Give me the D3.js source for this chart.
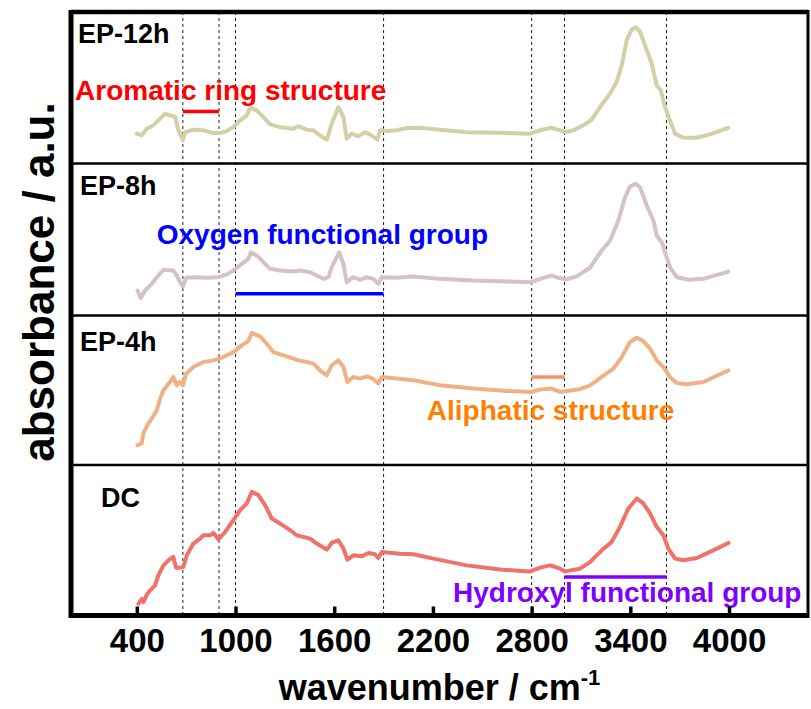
<!DOCTYPE html>
<html>
<head>
<meta charset="utf-8">
<script src="https://cdn.jsdelivr.net/npm/d3@7"></script>
<style>
body { margin: 0; background: #fff; }
text { font-family: "Liberation Sans", Arial, sans-serif; font-weight: bold; }
</style>
</head>
<body>
<svg id="chart"></svg>
<script>
var width = 811;
var height = 709;

// spectra: [wavenumber, absorbance (a.u., per panel)]
var ep12h = [[400,19.7],[430,18.5],[461,23.0],[501,25.2],[542,29.6],[572,32.9],[602,31.8],[633,30.7],[653,21.9],[680,15.2],
  [694,20.7],[744,22.3],[805,21.9],[866,20.1],[906,20.1],[947,21.4],[987,24.0],[1028,28.5],[1069,31.8],[1089,36.9],
  [1129,35.1],[1169,30.7],[1210,25.8],[1271,24.0],[1352,23.0],[1382,24.5],[1433,22.3],[1473,21.9],[1514,18.5],[1555,15.7],
  [1585,26.3],[1625,37.3],[1656,30.7],[1676,16.4],[1707,19.7],[1747,17.9],[1788,20.7],[1828,18.5],[1862,15.7],[1879,21.9],
  [1919,21.4],[1980,21.9],[2041,23.4],[2122,23.6],[2243,22.3],[2406,20.7],[2608,20.3],[2790,19.7],[2851,21.9],[2922,23.6],
  [2973,21.9],[3003,20.7],[3054,21.9],[3114,25.2],[3165,28.9],[3216,37.3],[3277,46.2],[3317,53.8],[3348,64.9],[3378,81.5],
  [3409,88.5],[3433,89.9],[3459,87.0],[3500,74.8],[3530,66.0],[3560,51.7],[3585,48.3],[3611,37.3],[3641,28.5],[3672,19.7],
  [3722,17.0],[3804,17.0],[3884,19.2],[3996,23.6]];

var ep8h = [[404,16.4],[424,11.6],[450,16.4],[491,20.9],[531,26.3],[562,30.1],[622,29.6],[643,26.3],[663,21.9],[680,19.1],
  [700,24.8],[744,25.2],[825,24.8],[896,25.2],[947,27.0],[987,29.6],[1038,34.0],[1078,37.3],[1093,41.6],[1129,39.5],
  [1169,35.1],[1210,30.7],[1271,29.6],[1352,28.9],[1392,29.6],[1453,28.5],[1494,26.3],[1534,24.1],[1564,25.2],[1585,31.8],
  [1631,41.6],[1656,34.0],[1676,21.9],[1716,25.2],[1757,23.5],[1798,25.2],[1838,24.1],[1868,20.9],[1889,25.2],[1980,24.8],
  [2081,25.7],[2243,24.1],[2446,23.0],[2649,22.4],[2801,21.9],[2851,24.1],[2922,26.3],[2962,24.8],[3009,23.7],[3074,25.7],
  [3155,31.4],[3226,42.8],[3277,49.3],[3327,62.5],[3368,77.8],[3398,84.9],[3433,86.6],[3459,84.4],[3500,72.4],[3540,62.5],
  [3560,52.6],[3591,48.2],[3617,39.5],[3641,31.8],[3682,25.2],[3753,23.5],[3844,24.1],[3996,28.9]];

var ep4h = [[404,13.3],[430,14.5],[440,21.1],[464,26.7],[501,32.7],[521,36.7],[542,44.5],[562,50.0],[602,55.5],[622,58.9],
  [643,53.3],[659,55.5],[680,53.3],[700,61.1],[744,65.5],[805,68.9],[866,70.0],[926,72.2],[987,75.5],[1038,80.0],
  [1078,82.9],[1099,88.2],[1149,86.0],[1190,81.1],[1230,75.5],[1291,73.3],[1352,71.1],[1382,70.0],[1433,68.9],[1473,67.8],
  [1514,63.3],[1555,60.0],[1585,66.7],[1625,70.0],[1656,65.5],[1680,55.5],[1716,58.9],[1757,57.8],[1798,59.3],[1834,57.8],
  [1868,54.5],[1889,58.9],[1980,57.8],[2081,56.7],[2243,53.3],[2446,51.1],[2649,49.5],[2801,48.9],[2851,50.5],[2922,51.1],
  [2973,48.9],[3003,49.3],[3094,50.7],[3155,53.3],[3226,58.9],[3297,64.5],[3348,72.2],[3398,82.2],[3439,85.1],[3479,82.9],
  [3520,77.8],[3560,70.0],[3601,65.5],[3641,58.9],[3682,54.9],[3743,54.0],[3844,55.5],[3996,63.3]];

var dc = [[410,7.8],[430,11.1],[440,8.9],[464,14.5],[491,17.8],[511,20.0],[531,26.7],[562,33.3],[592,36.7],[622,38.9],
  [639,31.8],[663,31.8],[683,32.2],[704,40.0],[744,47.8],[785,51.1],[805,53.3],[845,53.3],[866,54.9],[896,50.5],
  [937,55.5],[987,63.3],[1028,70.0],[1069,74.5],[1099,82.2],[1139,80.0],[1180,73.3],[1220,64.5],[1271,61.1],[1332,56.7],
  [1372,53.3],[1453,51.1],[1494,47.8],[1555,43.8],[1585,48.2],[1625,50.0],[1656,44.5],[1680,37.1],[1716,40.0],[1767,39.3],
  [1808,41.5],[1848,40.7],[1868,38.2],[1889,42.2],[2000,41.1],[2081,40.7],[2203,37.8],[2406,33.3],[2608,30.5],[2790,29.3],
  [2851,31.8],[2912,33.3],[2973,31.1],[3003,29.3],[3094,31.1],[3155,35.5],[3226,43.3],[3287,48.9],[3337,58.9],[3388,71.1],
  [3439,77.8],[3479,74.5],[3520,67.8],[3560,58.9],[3601,53.3],[3631,44.5],[3672,37.8],[3722,36.7],[3804,38.2],[3904,43.3],
  [3996,48.2]];

var seriesNames = ["EP-12h", "EP-8h", "EP-4h", "DC"];
var seriesData = [ep12h, ep8h, ep4h, dc];
var seriesColors = ["#d3cfa6", "#d3c3c3", "#f0b284", "#f07268"];

var xTicks = [400, 1000, 1600, 2200, 2800, 3400, 4000];
var dashWavenumbers = [680, 900, 1000, 1900, 2800, 3000, 3620];

// annotation ranges: panel index, from, to, level
var bandNames = ["Aromatic ring structure", "Oxygen functional group", "Aliphatic structure", "Hydroxyl functional group"];
var bandPanel = [0, 1, 2, 3];
var bandRange = [[680, 900], [1000, 1900], [2800, 3000], [3000, 3620]];
var bandLevel = [34.4, 14.3, 58.9, 25.5];
var bandLabelAt = [[25, 41.7], [521, 47.2], [2163, 30], [2322, 8.9]];
var bandBarColors = ["#ff0000", "#0000ff", "#ff8c69", "#8000ff"];
var bandTextColors = ["#ff0000", "#0000ff", "#ff8000", "#8000ff"];

var panelEdges = [12, 163.5, 315.5, 465, 615.5];
var left = 71, right = 808;

var svg = d3.select("#chart").attr("width", width).attr("height", height);

var x = d3.scaleLinear().domain([0, 4480]).range([left, right]);

var yScales = seriesNames.map(function(d, i) {
    return d3.scaleLinear().domain([0, 100]).range([panelEdges[i + 1], panelEdges[i]]);
});

// dashed guide lines through all panels
svg.append("g").selectAll("line").data(dashWavenumbers).enter().append("line")
    .attr("x1", function(d) { return x(d); })
    .attr("x2", function(d) { return x(d); })
    .attr("y1", panelEdges[0])
    .attr("y2", panelEdges[4])
    .attr("stroke", "#222")
    .attr("stroke-width", 1)
    .attr("stroke-dasharray", "3,3");

// spectra
seriesData.forEach(function(data, i) {
    var line = d3.line()
        .x(function(d) { return x(d[0]); })
        .y(function(d) { return yScales[i](d[1]); });
    svg.append("path").datum(data)
        .attr("d", line)
        .attr("fill", "none")
        .attr("stroke", seriesColors[i])
        .attr("stroke-width", 4)
        .attr("stroke-linejoin", "round")
        .attr("stroke-linecap", "round");
});

// annotation bars and labels
bandNames.forEach(function(name, i) {
    var ys = yScales[bandPanel[i]];
    svg.append("line")
        .attr("x1", x(bandRange[i][0]))
        .attr("x2", x(bandRange[i][1]))
        .attr("y1", ys(bandLevel[i]))
        .attr("y2", ys(bandLevel[i]))
        .attr("stroke", bandBarColors[i])
        .attr("stroke-width", 3.5);
    svg.append("text")
        .attr("x", x(bandLabelAt[i][0]))
        .attr("y", ys(bandLabelAt[i][1]))
        .attr("fill", bandTextColors[i])
        .style("font-size", "28px")
        .text(name);
});

// panel names
var nameOffset = [[78, 31], [80, 31], [80, 35], [101, 42]];
seriesNames.forEach(function(name, i) {
    svg.append("text")
        .attr("x", nameOffset[i][0])
        .attr("y", panelEdges[i] + nameOffset[i][1])
        .attr("fill", "#000")
        .style("font-size", "27px")
        .text(name);
});

// panel dividers
svg.append("g").selectAll("line").data(panelEdges.slice(1, 4)).enter().append("line")
    .attr("x1", left).attr("x2", right)
    .attr("y1", function(d) { return d; })
    .attr("y2", function(d) { return d; })
    .attr("stroke", "#000")
    .attr("stroke-width", 2.5);

// frame
svg.append("line").attr("x1", left).attr("x2", right).attr("y1", panelEdges[0]).attr("y2", panelEdges[0])
    .attr("stroke", "#000").attr("stroke-width", 4.5);
svg.append("line").attr("x1", left).attr("x2", right).attr("y1", panelEdges[4]).attr("y2", panelEdges[4])
    .attr("stroke", "#000").attr("stroke-width", 5);
svg.append("line").attr("x1", left).attr("x2", left).attr("y1", panelEdges[0] - 2).attr("y2", panelEdges[4] + 2.5)
    .attr("stroke", "#000").attr("stroke-width", 5);
svg.append("line").attr("x1", right).attr("x2", right).attr("y1", panelEdges[0] - 2).attr("y2", panelEdges[4] + 2.5)
    .attr("stroke", "#000").attr("stroke-width", 3);

// bottom axis, inward ticks
var xAxis = d3.axisBottom(x).tickValues(xTicks).tickFormat(d3.format("d"))
    .tickSizeInner(-9).tickSizeOuter(0).tickPadding(13);
var gx = svg.append("g").attr("transform", "translate(0," + panelEdges[4] + ")").call(xAxis);
gx.select(".domain").remove();
gx.selectAll(".tick line").attr("stroke", "#000").attr("stroke-width", 3.5);
gx.selectAll(".tick text")
    .attr("fill", "#000")
    .style("font-family", "'Liberation Sans', Arial, sans-serif")
    .style("font-weight", "bold")
    .style("font-size", "33px");

// axis titles
var xt = svg.append("text")
    .attr("x", (left + right) / 2)
    .attr("y", 700)
    .attr("text-anchor", "middle")
    .style("font-size", "36px");
xt.append("tspan").text("wavenumber / cm");
xt.append("tspan").attr("dy", -15).style("font-size", "22px").text("-1");

svg.append("text")
    .attr("transform", "translate(54," + 282 + ") rotate(-90)")
    .attr("text-anchor", "middle")
    .style("font-size", "44px")
    .text("absorbance / a.u.");
</script>
</body>
</html>
